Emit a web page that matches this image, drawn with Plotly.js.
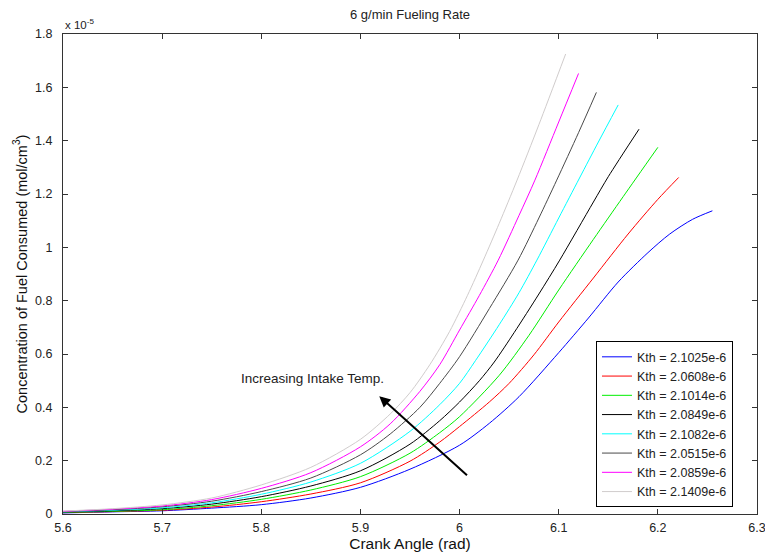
<!DOCTYPE html>
<html>
<head>
<meta charset="utf-8">
<script src="https://cdn.plot.ly/plotly-3.0.1.min.js"></script>
<style>html,body{margin:0;padding:0;background:#fff;}#chart{width:765px;height:552px;}</style>
</head>
<body>
<div id="chart"></div>
<script>
// Values in units of 1e-5 mol/cm^3
const seriesNames = ["Kth = 2.1025e-6","Kth = 2.0608e-6","Kth = 2.1014e-6","Kth = 2.0849e-6",
                     "Kth = 2.1082e-6","Kth = 2.0515e-6","Kth = 2.0859e-6","Kth = 2.1409e-6"];
const seriesColors = ["#0000ff","#ff0000","#00ee00","#000000","#00ffff","#4a4a4a","#ff00ff","#d0cccc"];

const xBlue = [5.6,5.65,5.7,5.75,5.8,5.85,5.9,5.95,6.0,6.03,6.06,6.1,6.13,6.16,6.19,6.212,6.235,6.255];
const yBlue = [0.004,0.008,0.012,0.022,0.035,0.06,0.100,0.168,0.258,0.34,0.44,0.605,0.735,0.87,0.98,1.05,1.105,1.137];

const xRed = [5.6,5.65,5.7,5.75,5.8,5.85,5.9,5.95,5.98,6.0,6.03,6.05,6.075,6.1,6.135,6.17,6.2,6.221];
const yRed = [0.005,0.009,0.014,0.026,0.046,0.075,0.117,0.198,0.27,0.328,0.42,0.49,0.597,0.72,0.885,1.05,1.18,1.262];

const xGreen = [5.6,5.65,5.7,5.75,5.8,5.85,5.9,5.95,5.98,6.0,6.04,6.07,6.1,6.135,6.165,6.2];
const yGreen = [0.006,0.01,0.016,0.031,0.055,0.09,0.14,0.228,0.305,0.365,0.52,0.67,0.84,1.03,1.19,1.375];

const xBlack = [5.6,5.65,5.7,5.75,5.8,5.85,5.9,5.95,5.98,6.0,6.02,6.035,6.055,6.08,6.101,6.135,6.15,6.181];
const yBlack = [0.007,0.012,0.02,0.037,0.065,0.105,0.162,0.262,0.35,0.42,0.5,0.57,0.68,0.825,0.952,1.17,1.265,1.443];

const xCyan = [5.6,5.65,5.7,5.75,5.8,5.85,5.9,5.95,5.98,6.0,6.016,6.04,6.06,6.078,6.1,6.121,6.14,6.16];
const yCyan = [0.008,0.014,0.023,0.042,0.074,0.12,0.19,0.31,0.41,0.49,0.575,0.71,0.83,0.952,1.11,1.26,1.395,1.534];

const xGray = [5.6,5.65,5.7,5.75,5.8,5.85,5.9,5.93,5.96,5.98,6.0,6.03,6.059,6.08,6.098,6.12,6.138];
const yGray = [0.009,0.016,0.027,0.048,0.084,0.135,0.222,0.3,0.4,0.49,0.59,0.77,0.952,1.11,1.252,1.43,1.581];

const xMagenta = [5.6,5.65,5.7,5.75,5.8,5.85,5.9,5.93,5.96,5.98,6.0,6.02,6.039,6.06,6.076,6.1,6.12];
const yMagenta = [0.01,0.018,0.03,0.054,0.096,0.155,0.252,0.338,0.46,0.56,0.69,0.82,0.952,1.12,1.252,1.47,1.652];

const xLight = [5.6,5.65,5.7,5.75,5.8,5.85,5.9,5.93,5.95,5.97,5.99,6.008,6.024,6.04,6.058,6.08,6.107];
const yLight = [0.011,0.02,0.034,0.06,0.109,0.175,0.28,0.375,0.455,0.56,0.685,0.82,0.952,1.09,1.252,1.46,1.725];

const xTicks = [5.6,5.7,5.8,5.9,6.0,6.1,6.2,6.3];
const yTicks = [0,0.2,0.4,0.6,0.8,1,1.2,1.4,1.6,1.8];

const xs = [xBlue,xRed,xGreen,xBlack,xCyan,xGray,xMagenta,xLight];
const ys = [yBlue,yRed,yGreen,yBlack,yCyan,yGray,yMagenta,yLight];

const font = "Liberation Sans, Arial, Helvetica, sans-serif";
const traces = xs.map((x,i)=>({
  x:x, y:ys[i], type:'scatter', mode:'lines', name:seriesNames[i],
  line:{color:seriesColors[i], width:1, shape:'spline', smoothing:0.8}
}));

const axisCommon = {
  showline:true, linecolor:'#333', linewidth:1, mirror:'allticks',
  ticks:'inside', ticklen:5, tickwidth:1, tickcolor:'#333',
  showgrid:false, zeroline:false, tickfont:{family:font,size:12.5,color:'#222'},
  ticklabeloverflow:'allow'
};

const layout = {
  width:765, height:552,
  margin:{l:63,r:8,t:34,b:38},
  paper_bgcolor:'#fff', plot_bgcolor:'#fff',
  font:{family:font,color:'#222'},
  title:{text:'6 g/min Fueling Rate', font:{family:font,size:13,color:'#222'}, xref:'paper', x:0.5, xanchor:'center', y:0.973, yanchor:'middle'},
  xaxis:Object.assign({}, axisCommon, {range:[5.6,6.3], tickvals:xTicks, ticktext:xTicks.map(v=>String(v)),
        ticklabelstandoff:2,
        title:{text:'Crank Angle (rad)', font:{family:font,size:15.5,color:'#111'}, standoff:2}}),
  yaxis:Object.assign({}, axisCommon, {range:[0,1.8], tickvals:yTicks, ticktext:yTicks.map(v=>String(v)),
        ticklabelstandoff:7,
        title:{text:'Concentration of Fuel Consumed (mol/cm<sup>3</sup>)', font:{family:font,size:14.5,color:'#111'}, standoff:4}}),
  showlegend:true,
  legend:{x:0.768, y:0.36, xanchor:'left', yanchor:'top', bgcolor:'#fff', bordercolor:'#000', borderwidth:1,
          font:{family:font,size:12.5,color:'#222'}, tracegroupgap:0},
  annotations:[
    {xref:'paper', yref:'paper', x:0, y:1, xanchor:'left', yanchor:'bottom', showarrow:false,
     text:'x 10<sup>-5</sup>', font:{family:font,size:11.5,color:'#222'}, xshift:0, yshift:1},
    {xref:'x', yref:'y', x:5.852, y:0.51, xanchor:'center', yanchor:'middle', showarrow:false,
     text:'Increasing Intake Temp.', font:{family:font,size:13.5,color:'#222'}},
    {xref:'x', yref:'y', axref:'x', ayref:'y', x:5.919, y:0.442, ax:6.009, ay:0.14,
     text:'', showarrow:true, arrowhead:2, arrowsize:1.1, arrowwidth:2, arrowcolor:'#000', standoff:0, startstandoff:0}
  ]
};

Plotly.newPlot('chart', traces, layout, {displayModeBar:false, staticPlot:true});
</script>
</body>
</html>
